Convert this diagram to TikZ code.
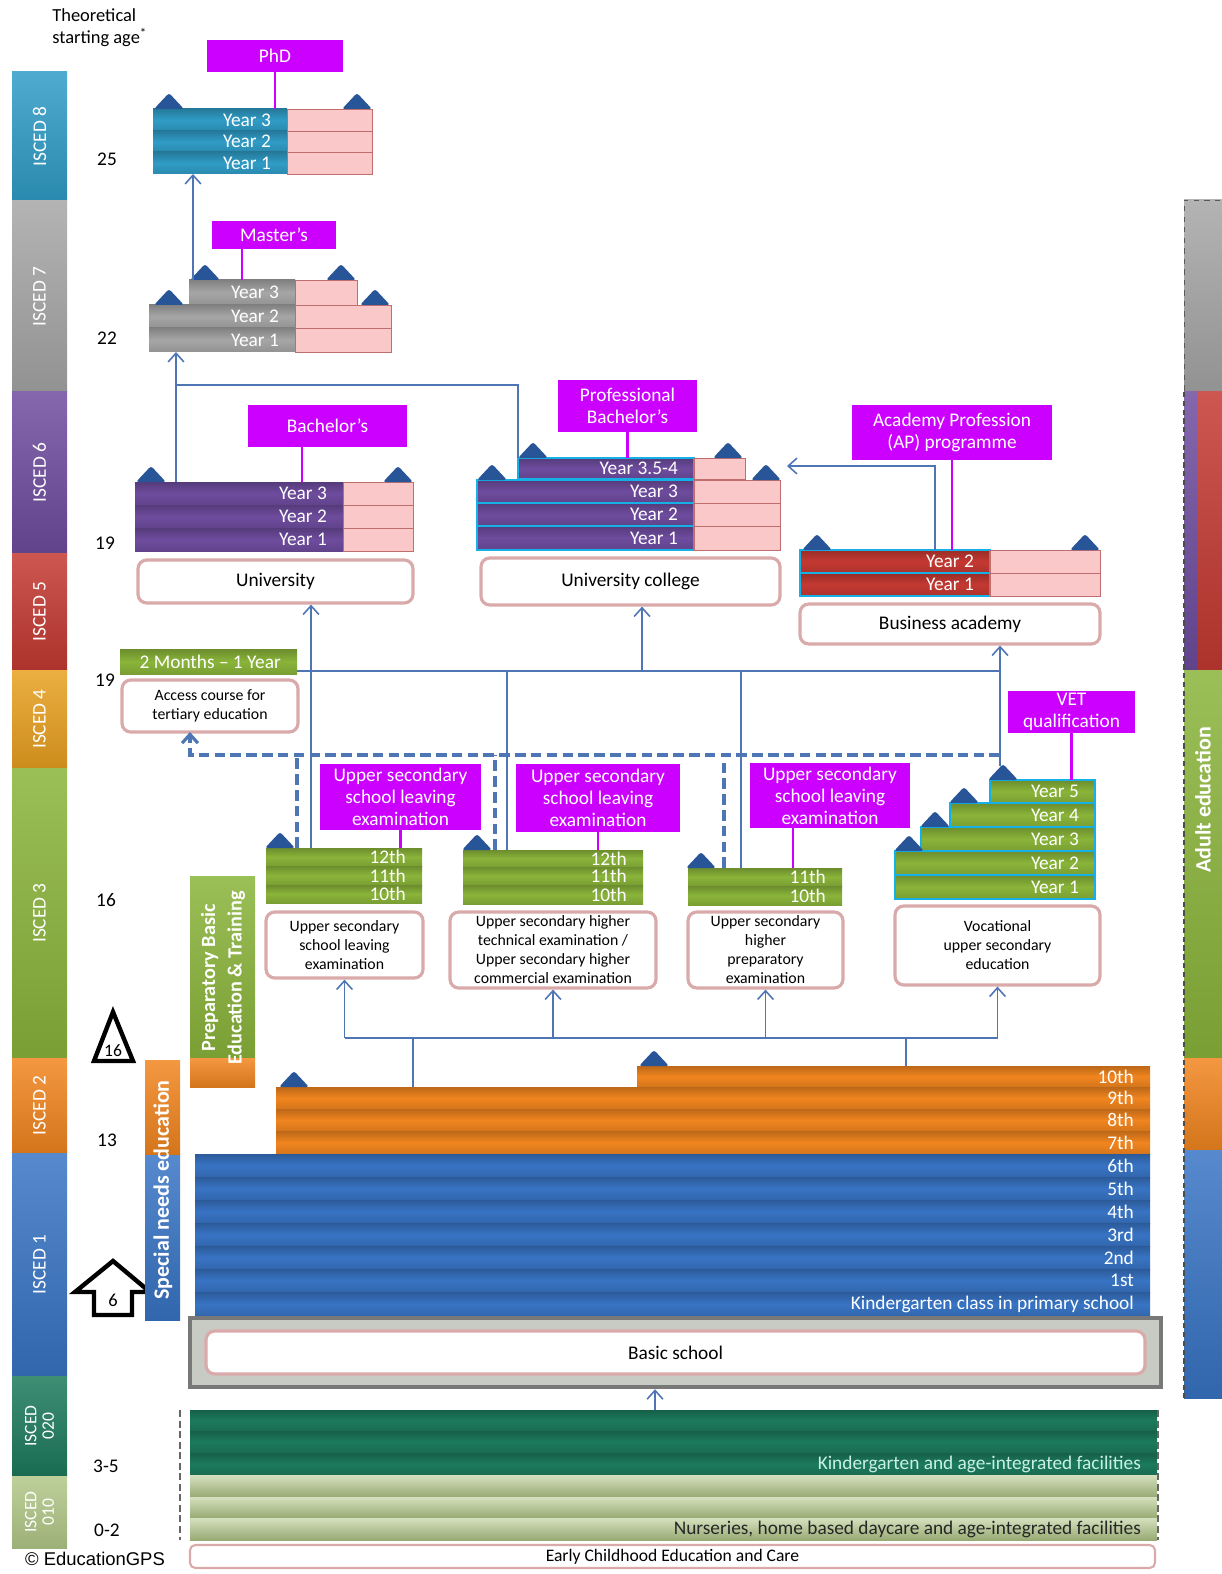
\documentclass[tikz,border=0pt]{standalone}
\usepackage{fontspec}
\setmainfont{Carlito}
\newfontfamily\arialfont{Liberation Sans}
\usetikzlibrary{positioning,fit,arrows.meta}

\definecolor{isced8}{RGB}{48,156,198}
\definecolor{isced7}{RGB}{166,166,166}
\definecolor{isced6}{RGB}{110,76,158}
\definecolor{isced5}{RGB}{196,57,50}
\definecolor{isced4}{RGB}{232,160,32}
\definecolor{isced3}{RGB}{138,180,58}
\definecolor{isced2}{RGB}{241,133,31}
\definecolor{isced1}{RGB}{56,116,196}
\definecolor{isced020}{RGB}{28,122,92}
\definecolor{isced010}{RGB}{178,200,136}
\definecolor{degmag}{RGB}{204,0,255}
\definecolor{pinkrow}{RGB}{250,200,200}
\definecolor{pinkline}{RGB}{190,110,110}
\definecolor{boxline}{RGB}{218,170,170}
\definecolor{linkblue}{RGB}{79,118,180}
\definecolor{tridark}{RGB}{40,84,152}
\definecolor{cyanline}{RGB}{20,176,230}
\definecolor{bsgray}{RGB}{200,203,196}
\definecolor{bsframe}{RGB}{120,120,120}
\definecolor{kgtext}{RGB}{200,240,228}

% coloured year row, label on the right
\newcommand{\yr}[7]{\node[#2, fit={(#3,#4) (#5,#6)}, label={[rowtxt]east:#7}] (#1) {};}
% pink part of a year row
\newcommand{\pk}[5]{\node[pinkcell, fit={(#2,#3) (#4,#5)}] (#1) {};}
% small triangle sitting on a row
\newcommand{\tri}[2]{\fill[yeartri] (#1-15,#2) -- (#1,#2-16) -- (#1+15,#2) -- cycle;}

\begin{document}
\begin{tikzpicture}[
    x=0.02cm, y=-0.02cm,
    >={Straight Barb[length=5pt,width=9pt]},
    yearrow/.style={inner sep=0pt, outer sep=0pt, top color=#1!78!black, bottom color=#1!88!black, middle color=#1},
    lightrow/.style={inner sep=0pt, outer sep=0pt, top color=isced010!55!white, bottom color=isced010!85!black},
    cyanframe/.style={draw=cyanline, line width=1.3pt},
    rowtxt/.style={anchor=east, xshift=-9pt, inner sep=0pt, text=white, font=\fontsize{11}{12}\selectfont},
    pinkcell/.style={inner sep=0pt, outer sep=0pt, fill=pinkrow, draw=pinkline, line width=0.5pt},
    yeartri/.style={fill=tridark, rounded corners=1.5pt},
    lvlbar/.style={inner sep=0pt, outer sep=0pt, top color=#1!85!white, bottom color=#1!88!black},
    lvltxt/.style={rotate=90, text=white, align=center, font=\fontsize{11}{11}\selectfont},
    agelbl/.style={font=\fontsize{11}{12}\selectfont},
    degree/.style={inner sep=0pt, fill=degmag},
    degtxt/.style={inner sep=0pt, text=white, align=center, font=\fontsize{11}{12.5}\selectfont},
    degline/.style={draw=degmag, line width=1.2pt},
    edu/.style={inner sep=0pt, fill=white, draw=boxline, line width=1.8pt, rounded corners=5pt},
    edutxt/.style={inner sep=0pt, align=center, font=\fontsize{9}{10.8}\selectfont},
    edubig/.style={inner sep=0pt, align=center, font=\fontsize{11}{12}\selectfont},
    link/.style={draw=linkblue, line width=0.9pt},
    dlink/.style={draw=linkblue, line width=1.8pt, dash pattern=on 6pt off 3pt},
    bartxt/.style={rotate=90, text=white, align=center, font=\bfseries\fontsize{12.5}{15}\selectfont},
  ]
  \useasboundingbox (0,0) rectangle (1222,1574);

  % heading and ISCED levels on the left
  \node[anchor=north west, align=left, inner sep=0pt, font=\fontsize{10.5}{13}\selectfont] (head) at (52,8) {Theoretical\\ starting age\textsuperscript{*}};
  \node[lvlbar=isced8, fit={(12,72) (67,201)}] (i8) {};
  \node[lvltxt] (i8t) at (i8) {ISCED 8};
  \node[lvlbar=isced7, fit={(12,201) (67,392)}] (i7) {};
  \node[lvltxt] (i7t) at (i7) {ISCED 7};
  \node[lvlbar=isced6, fit={(12,392) (67,553)}] (i6) {};
  \node[lvltxt] (i6t) at (i6) {ISCED 6};
  \node[lvlbar=isced5, fit={(12,553) (67,670)}] (i5) {};
  \node[lvltxt] (i5t) at (i5) {ISCED 5};
  \node[lvlbar=isced4, fit={(12,670) (67,768)}] (i4) {};
  \node[lvltxt] (i4t) at (i4) {ISCED 4};
  \node[lvlbar=isced3, fit={(12,768) (67,1058)}] (i3) {};
  \node[lvltxt] (i3t) at (i3) {ISCED 3};
  \node[lvlbar=isced2, fit={(12,1058) (67,1153)}] (i2) {};
  \node[lvltxt] (i2t) at (i2) {ISCED 2};
  \node[lvlbar=isced1, fit={(12,1153) (67,1376)}] (i1) {};
  \node[lvltxt] (i1t) at (i1) {ISCED 1};
  \node[lvlbar=isced020, fit={(12,1376) (67,1476)}] (i020) {};
  \node[lvltxt, font=\fontsize{10}{10}\selectfont] (i020t) at (i020) {ISCED\\020};
  \node[lvlbar=isced010, fit={(12,1476) (67,1548)}] (i010) {};
  \node[lvltxt, font=\fontsize{10}{10}\selectfont] (i010t) at (i010) {ISCED\\010};

  % ages
  \node[agelbl] (age25) at (107,159) {25};
  \node[agelbl] (age22) at (107,338) {22};
  \node[agelbl] (age19a) at (105,543) {19};
  \node[agelbl] (age19b) at (105,680) {19};
  \node[agelbl] (age16) at (106,900) {16};
  \node[agelbl] (age13) at (107,1140) {13};
  \node[agelbl] (age35) at (106,1466) {3-5};
  \node[agelbl] (age02) at (107,1530) {0-2};
  \draw[line width=2.5pt, fill=white] (94,1061) -- (113,1012) -- (133,1061) -- cycle;
  \node[font=\fontsize{10}{11}\selectfont] (cut16) at (113,1051) {16};
  \draw[line width=2.5pt, fill=white] (113,1261) -- (150,1292) -- (132,1292) -- (132,1315) -- (94,1315) -- (94,1292) -- (75,1292) -- cycle;
  \node[font=\fontsize{10.5}{11}\selectfont] (start6) at (113,1300) {6};

  % adult education on the right
  \node[lvlbar=isced7, draw=gray!70!black, dashed, fit={(1184,200) (1222,392)}] (a7) {};
  \node[lvlbar=isced6, fit={(1184,392) (1198,670)}] (a6) {};
  \node[lvlbar=isced5, fit={(1198,392) (1222,670)}] (a5) {};
  \node[lvlbar=isced3, fit={(1184,670) (1222,1058)}] (a3) {};
  \node[lvlbar=isced2, fit={(1184,1058) (1222,1150)}] (a2) {};
  \node[lvlbar=isced1, fit={(1184,1150) (1222,1398)}] (a1) {};
  \draw[gray!60!black, densely dashed, line width=0.8pt] (a7.south west) -- (a1.south west);
  \node[bartxt] (adult) at (1203,800) {Adult education};

  % PhD
  \node[degree, fit={(207,40) (343,72)}, label={[degtxt]center:PhD}] (phd) {};
  \yr{phd3}{yearrow=isced8}{153}{109}{287}{131}{Year 3}
  \yr{phd2}{yearrow=isced8}{153}{131}{287}{152}{Year 2}
  \yr{phd1}{yearrow=isced8}{153}{152}{287}{174}{Year 1}
  \pk{phd3p}{287}{109}{372}{131}
  \pk{phd2p}{287}{131}{372}{152}
  \pk{phd1p}{287}{152}{372}{174}
  \tri{169}{109} \tri{357}{109}

  % Master's
  \node[degree, fit={(212,221) (336,249)}, label={[degtxt]center:Master's}] (ma) {};
  \yr{ma3}{yearrow=isced7}{189}{280}{295}{305}{Year 3}
  \yr{ma2}{yearrow=isced7}{149}{305}{295}{328}{Year 2}
  \yr{ma1}{yearrow=isced7}{149}{328}{295}{352}{Year 1}
  \pk{ma3p}{295}{280}{357}{305}
  \pk{ma2p}{295}{305}{391}{328}
  \pk{ma1p}{295}{328}{391}{352}
  \tri{205}{280} \tri{341}{280} \tri{169}{305} \tri{375}{305}

  % University
  \node[degree, fit={(248,405) (407,447)}, label={[degtxt]center:Bachelor's}] (bach) {};
  \yr{uni3}{yearrow=isced6}{135}{482}{343}{505}{Year 3}
  \yr{uni2}{yearrow=isced6}{135}{505}{343}{528}{Year 2}
  \yr{uni1}{yearrow=isced6}{135}{528}{343}{551}{Year 1}
  \pk{uni3p}{343}{482}{413}{505}
  \pk{uni2p}{343}{505}{413}{528}
  \pk{uni1p}{343}{528}{413}{551}
  \tri{151}{482} \tri{398}{482}
  \node[edu, fit={(138,560) (413,603)}, label={[edubig]center:University}] (uni) {};

  % University college
  \node[degree, fit={(558,380) (697,432)}, label={[degtxt]center:Professional\\Bachelor's}] (pb) {};
  \yr{uc4}{yearrow=isced6, cyanframe}{518}{458}{694}{479}{Year 3.5-4}
  \yr{uc3}{yearrow=isced6, cyanframe}{477}{480}{694}{503}{Year 3}
  \yr{uc2}{yearrow=isced6, cyanframe}{477}{503}{694}{526}{Year 2}
  \yr{uc1}{yearrow=isced6, cyanframe}{477}{526}{694}{550}{Year 1}
  \pk{uc4p}{694}{458}{745}{479}
  \pk{uc3p}{694}{480}{780}{503}
  \pk{uc2p}{694}{503}{780}{526}
  \pk{uc1p}{694}{526}{780}{550}
  \tri{533}{458} \tri{728}{458} \tri{492}{480} \tri{766}{480}
  \node[edu, fit={(481,558) (780,605)}, label={[edubig]center:University college}] (uc) {};

  % Business academy
  \node[degree, fit={(852,405) (1052,460)}, label={[degtxt]center:Academy Profession\\(AP) programme}] (ap) {};
  \yr{ba2}{yearrow=isced5, cyanframe}{800}{550}{990}{573}{Year 2}
  \yr{ba1}{yearrow=isced5, cyanframe}{800}{573}{990}{596}{Year 1}
  \pk{ba2p}{990}{550}{1100}{573}
  \pk{ba1p}{990}{573}{1100}{596}
  \tri{817}{550} \tri{1085}{550}
  \node[edu, fit={(800,604) (1100,644)}, label={[edubig]center:Business academy}] (ba) {};

  % Access course
  \yr{accl}{yearrow=isced3}{120}{649}{297}{674}{2 Months -- 1 Year}
  \node[edu, fit={(122,680) (298,732)}, label={[edutxt]center:Access course for\\tertiary education}] (acc) {};

  % Upper secondary
  \node[degree, fit={(320,764) (481,830)}, label={[degtxt]center:Upper secondary\\school leaving\\examination}] (usAl) {};
  \yr{a12}{yearrow=isced3}{266}{848}{422}{866}{12th}
  \yr{a11}{yearrow=isced3}{266}{866}{422}{885}{11th}
  \yr{a10}{yearrow=isced3}{266}{885}{422}{903}{10th}
  \tri{280}{848}
  \node[edu, fit={(266,912) (423,978)}, label={[edutxt]center:Upper secondary\\school leaving\\examination}] (usA) {};

  \node[degree, fit={(516,764) (680,832)}, label={[degtxt]center:Upper secondary\\school leaving\\examination}] (usBl) {};
  \yr{b12}{yearrow=isced3}{463}{850}{643}{867}{12th}
  \yr{b11}{yearrow=isced3}{463}{867}{643}{885}{11th}
  \yr{b10}{yearrow=isced3}{463}{885}{643}{904}{10th}
  \tri{477}{850}
  \node[edu, fit={(450,912) (656,988)}, label={[edutxt]center:Upper secondary higher\\technical examination /\\Upper secondary higher\\commercial examination}] (usB) {};

  \node[degree, fit={(750,763) (910,828)}, label={[degtxt]center:Upper secondary\\school leaving\\examination}] (usCl) {};
  \yr{c11}{yearrow=isced3}{688}{868}{842}{886}{11th}
  \yr{c10}{yearrow=isced3}{688}{886}{842}{905}{10th}
  \tri{701}{868}
  \node[edu, fit={(688,912) (843,988)}, label={[edutxt]center:Upper secondary\\higher\\preparatory\\examination}] (usC) {};

  \node[degree, fit={(1008,691) (1135,733)}, label={[degtxt]center:VET\\qualification}] (vet) {};
  \yr{voc5}{yearrow=isced3, cyanframe}{990}{780}{1095}{803}{Year 5}
  \yr{voc4}{yearrow=isced3, cyanframe}{950}{803}{1095}{827}{Year 4}
  \yr{voc3}{yearrow=isced3, cyanframe}{921}{827}{1095}{851}{Year 3}
  \yr{voc2}{yearrow=isced3, cyanframe}{895}{851}{1095}{875}{Year 2}
  \yr{voc1}{yearrow=isced3, cyanframe}{895}{875}{1095}{899}{Year 1}
  \tri{1003}{780} \tri{964}{803} \tri{935}{827} \tri{909}{851}
  \node[edu, fit={(895,906) (1100,985)}, label={[edutxt]center:Vocational\\upper secondary\\education}] (voc) {};

  % side bars
  \node[lvlbar=isced3, fit={(190,876) (255,1058)}] (prep) {};
  \node[lvlbar=isced2, fit={(190,1058) (255,1087)}] (prepo) {};
  \node[bartxt, font=\bfseries\fontsize{11.5}{15}\selectfont] (prept) at (223,978) {Preparatory Basic\\Education \& Training};
  \node[lvlbar=isced2, fit={(145,1060) (180,1155)}] (sneo) {};
  \node[lvlbar=isced1, fit={(145,1155) (180,1320)}] (sneb) {};
  \node[bartxt] (sne) at (163,1190) {Special needs education};

  % Basic school grades
  \yr{g10}{yearrow=isced2}{637}{1066}{1150}{1087}{10th}
  \yr{g9}{yearrow=isced2}{276}{1087}{1150}{1109}{9th}
  \yr{g8}{yearrow=isced2}{276}{1109}{1150}{1131}{8th}
  \yr{g7}{yearrow=isced2}{276}{1131}{1150}{1154}{7th}
  \tri{294}{1087} \tri{654}{1066}
  \yr{g6}{yearrow=isced1}{195}{1154}{1150}{1177}{6th}
  \yr{g5}{yearrow=isced1}{195}{1177}{1150}{1200}{5th}
  \yr{g4}{yearrow=isced1}{195}{1200}{1150}{1223}{4th}
  \yr{g3}{yearrow=isced1}{195}{1223}{1150}{1246}{3rd}
  \yr{g2}{yearrow=isced1}{195}{1246}{1150}{1269}{2nd}
  \yr{g1}{yearrow=isced1}{195}{1269}{1150}{1292}{1st}
  \yr{g0}{yearrow=isced1}{195}{1292}{1150}{1316}{Kindergarten class in primary school}
  \node[inner sep=0pt, fill=bsgray, draw=bsframe, line width=2.5pt, fit={(190,1318) (1161,1387)}] (bsframe) {};
  \node[edu, fit={(206,1331) (1145,1374)}, label={[edubig]center:Basic school}] (bs) {};

  % early childhood
  \yr{k3}{yearrow=isced020}{190}{1410}{1157}{1431}{}
  \yr{k4}{yearrow=isced020}{190}{1431}{1157}{1453}{}
  \yr{k5}{yearrow=isced020}{190}{1453}{1157}{1475}{\textcolor{kgtext}{Kindergarten and age-integrated facilities}}
  \yr{n0}{lightrow}{190}{1475}{1157}{1497}{}
  \yr{n1}{lightrow}{190}{1497}{1157}{1518}{}
  \yr{n2}{lightrow}{190}{1518}{1157}{1540}{\textcolor{black!85}{Nurseries, home based daycare and age-integrated facilities}}
  \draw[gray!80!black, dash pattern=on 4pt off 2pt, line width=1.2pt] (180,1410) -- (180,1540);
  \draw[gray!80!black, dash pattern=on 4pt off 2pt, line width=1.2pt] (1158,1410) -- (1158,1540);
  \node[edu, line width=1.2pt, rounded corners=3pt, fit={(190,1545) (1155,1568)}, label={[edutxt, font=\fontsize{10}{11}\selectfont]center:Early Childhood Education and Care}] (ecec) {};
  \node[font=\arialfont\fontsize{10.5}{12}\selectfont] (gps) at (95,1559) {© EducationGPS};

  % degree ties
  \draw[degline] (phd.south) -- (phd.south |- phd3.north);
  \draw[degline] (ma3.north) -- (ma3.north |- ma.south);
  \coordinate (bachtie) at (302,482);
  \draw[degline] (bachtie) -- (bachtie |- bach.south);
  \draw[degline] (pb.south) -- (pb.south |- uc4.north);
  \draw[degline] (ap.south) -- (ap.south |- ba2.north);
  \draw[degline] (vet.south) -- (vet.south |- voc5.north);
  \draw[degline] (usAl.south) -- (usAl.south |- a12.north);
  \draw[degline] (usBl.south) -- (usBl.south |- b12.north);
  \coordinate (usCtie) at (793,868);
  \draw[degline] (usCtie) -- (usCtie |- usCl.south);

  % pathways
  \coordinate (uniup) at (176,482);
  \draw[link,->] (uniup) -- (uniup |- ma1.south);
  \coordinate (ucup) at (518,458);
  \coordinate (majoin) at (176,385);
  \draw[link] (ucup) |- (majoin);
  \coordinate (maup) at (193,280);
  \draw[link,->] (maup) -- (maup |- phd1.south);
  \coordinate (baup) at (935,550);
  \coordinate (ucin) at (787,466);
  \draw[link,->] (baup) |- (ucin);

  \coordinate (hubR) at (1000,671);
  \draw[link] (accl.south east |- hubR) -- (hubR);
  \coordinate (usAup) at (311,848);
  \draw[link,->] (usAup) -- (usAup |- uni.south);
  \coordinate (usBup) at (507,850);
  \draw[link] (usBup) -- (usBup |- hubR);
  \coordinate (usCup) at (741,868);
  \draw[link] (usCup) -- (usCup |- hubR);
  \coordinate (ucfeed) at (642,671);
  \draw[link,->] (ucfeed) -- (ucfeed |- uc.south);
  \coordinate (vocup) at (1000,766);
  \draw[link,->] (vocup) -- (vocup |- ba.south);

  \coordinate (dashR) at (1000,755);
  \coordinate (accin) at (190,732);
  \draw[dlink,->] (dashR) -| (accin);
  \coordinate (usAd) at (297,848);
  \draw[dlink] (usAd) -- (usAd |- dashR);
  \coordinate (usBd) at (495,850);
  \draw[dlink] (usBd) -- (usBd |- dashR);
  \coordinate (usCd) at (724,868);
  \draw[dlink] (usCd) -- (usCd |- dashR);

  \coordinate (lowL) at (345,1038);
  \draw[link] (lowL) -- (voc.south |- lowL);
  \draw[link,->] (usA.south |- lowL) -- (usA.south);
  \draw[link,->] (usB.south |- lowL) -- (usB.south);
  \draw[link,->] (usC.south |- lowL) -- (usC.south);
  \draw[link,->] (voc.south |- lowL) -- (voc.south);
  \coordinate (lsA) at (413,1087);
  \draw[link] (lsA) -- (lsA |- lowL);
  \coordinate (lsB) at (906,1066);
  \draw[link] (lsB) -- (lsB |- lowL);
  \coordinate (ecup) at (655,1410);
  \draw[link,->] (ecup) -- (ecup |- bsframe.south);
\end{tikzpicture}
\end{document}
